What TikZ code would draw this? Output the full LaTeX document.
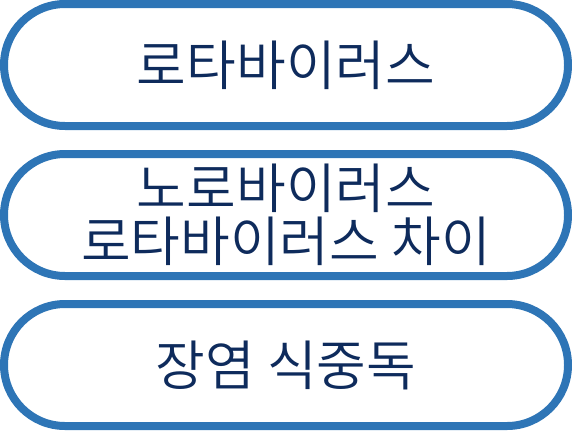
\documentclass[tikz,border=0pt]{standalone}
\usepackage{fontspec}
\newfontfamily\kr{Noto Sans CJK KR DemiLight}
\usetikzlibrary{shapes.misc}
\definecolor{khung}{HTML}{2E75B6}
\definecolor{chu}{HTML}{0E2B5C}
\begin{document}
\begin{tikzpicture}[x=1pt,y=-1pt,
            hop/.style={rounded rectangle,draw=khung,line width=8pt,
                minimum width=564pt,minimum height=122pt,inner sep=0pt,
                text=chu,align=center,font=\kr\fontsize{54}{53}\selectfont}]
            \useasboundingbox (0,0) rectangle (572,431);
            \path
            (286,65) node[hop] (rota) {로타바이러스} % <<< hộp 1
            ++(90:150) node[hop] (chai) {노로바이러스\\로타바이러스 차이} % <<< hộp 2
            ++(90:150) node[hop] (viem) {장염 식중독}; % <<< hộp 3
        \end{tikzpicture}
\end{document}
